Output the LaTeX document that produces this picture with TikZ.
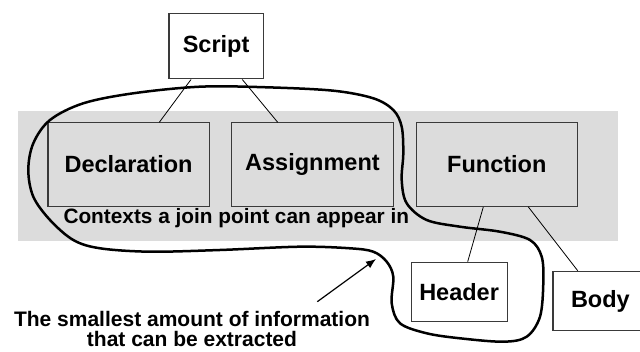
\documentclass[tikz,border=0pt]{standalone}
\usepackage{fontspec}
\setmainfont{Liberation Sans}
\usetikzlibrary{arrows.meta}
\definecolor{bandgray}{HTML}{DCDCDC}
\definecolor{edgegray}{HTML}{3A3A3A}
\begin{document}
\begin{tikzpicture}[x=1pt,y=-1pt,
  box/.style={draw=edgegray,line width=1.2pt,rectangle,inner sep=0pt,anchor=north west,
    font=\fontsize{23.5}{27}\selectfont\bfseries,text=black},
  plainbox/.style={box,fill=white},
  ctxbox/.style={box,fill=bandgray},
  link/.style={draw=black,line width=0.8pt},
  lasso/.style={draw=black,line width=2.5pt,line join=round},
  pointer/.style={draw=black,line width=1.2pt,-{Latex[length=10pt,width=8pt]}},
  caption/.style={font=\fontsize{20.8}{22}\selectfont\bfseries,text=black,inner sep=0pt}
]
\useasboundingbox (0,0) rectangle (640,352);

% shaded band holding the contexts
\fill[bandgray] (17.7,111) rectangle (618.4,240.7);

% boxes
\node[plainbox,minimum width=94.4pt,minimum height=65pt] (script) at (168.3,13.3) {Script};
\node[ctxbox,minimum width=161.3pt,minimum height=83.4pt] (decl) at (47.3,122.3) {Declaration};
\node[ctxbox,minimum width=161.7pt,minimum height=83.4pt] (assign) at (231,122.3) {Assignment};
\node[ctxbox,minimum width=161pt,minimum height=83.4pt] (func) at (415.7,122.3) {Function};
\node[plainbox,minimum width=96pt,minimum height=59.3pt] (header) at (410.5,261.7) {Header};
\node[plainbox,minimum width=95pt,minimum height=59.3pt] (body) at (552.3,270.7) {Body};

% band caption
\node[caption,anchor=base] (ctx) at (236.3,224) {Contexts a join point can appear in};

% tree connectors
\draw[link] ([xshift=22.7pt]script.south west) -- ([xshift=112pt]decl.north west);
\draw[link] ([xshift=74pt]script.south west) -- ([xshift=46.7pt]assign.north west);
\draw[link] ([xshift=67.6pt]func.south west) -- ([xshift=57.2pt]header.north west);
\draw[link] ([xshift=112.6pt]func.south west) -- ([xshift=25.4pt]body.north west);

% hand-drawn outline around the extractable part
\draw[lasso] plot[smooth cycle,tension=0.55] coordinates {
  (200,86.7) (266.7,87.3) (333.3,90.7) (373.3,98.3) (393.3,110) (401.7,126.7)
  (403.3,153.3) (401.7,180) (406.7,203.3) (426.7,220) (460,226.7) (500,231.7)
  (530,240) (541.7,256.7) (543.3,283.3) (540,316.7) (526.7,336.7) (503.3,341.7)
  (460,338.3) (426.7,333.3) (400,323.3) (391.7,303.3) (393.3,276.7) (386.7,261.7)
  (373.3,251.7) (350,248.3) (300,246.7) (220,250) (150,251.7) (100,248.3)
  (73.3,240) (50,220) (33.3,196.7) (28.3,170) (33.3,143.3) (50,120)
  (83.3,103.3) (133.3,93.3)};

% annotation
\node[caption,font=\fontsize{21}{20}\selectfont\bfseries,align=center,anchor=base] (note) at (192,346.7)
  {The smallest amount of information\\that can be extracted};
\coordinate (tail) at (317.3,301.7);
\coordinate (tip) at (376,259);
\draw[pointer] (tail) -- (tip);
\end{tikzpicture}
\end{document}
